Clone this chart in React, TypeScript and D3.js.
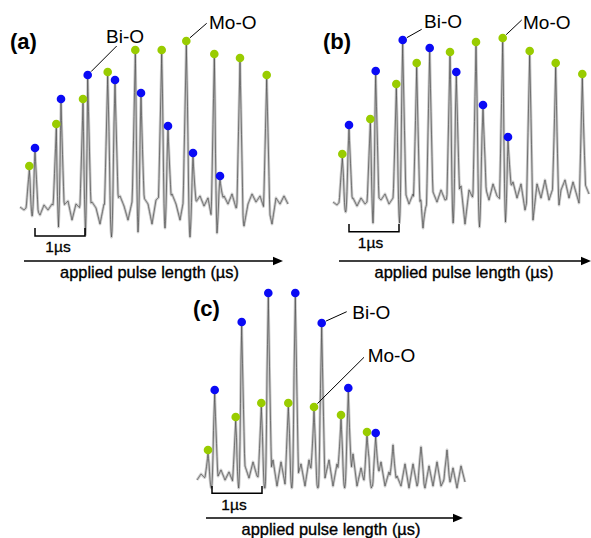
import React from "react";
import * as d3 from "d3";

const W = 591;
const H = 538;
const STEP_US = 0.08; // noise sample spacing (µs)
const PX_PER_US = 50;
const TIP_GAP = 4;
const SPIKE_W = 0.062;
const DIP_W = 0.044;
const FONT = "'Liberation Sans', Arial, Helvetica, sans-serif";
const GREEN = "#99cc00";
const BLUE = "#0a0af5";

// ---------- panel (a) ----------
const aGreenX = [0.186, 0.726, 1.26, 1.754, 2.306, 2.834, 3.326, 3.886, 4.4, 4.934];
const aGreenY = [44, 86, 111, 138, 160, 160, 169, 156, 152, 135];
const aBlueX = [0.3, 0.82, 1.354, 1.9, 2.42, 2.96, 3.46, 4.0];
const aBlueY = [62, 111, 135, 130, 117, 84, 57, 34];
const aDipX = [0.243, 0.77, 1.31, 1.83, 2.36, 2.9, 3.4, 3.94];
const aDipY = [-6, -17, -25, -27, -22, -18, -27, -23];
const aNoise = [3, 0, 4, -5, 2, -5, 5, 0, 6, 2, -6, 5, 9, -10, 6, 2, -5, 4, 8, 2, -14, 6, 4, -6, 10, 14, 4, -10, 8, 6, -8, 12, 6, -14, 10, 14, -6, 6, 16, 6, -10, 12, 6, -10, 8, 14, 4, 12, -10, 4, 6, 14, 6, 16, 2, 6, -16, 6, 16, 8, 14, 2, 4, -14, 12, 6, 14, 6];

// ---------- panel (b) ----------
const bGreenX = [0.186, 0.746, 1.266, 1.674, 2.34, 2.86, 3.394, 3.934, 4.454, 4.986];
const bGreenY = [50, 85, 120, 141, 152, 162, 166, 153, 141, 130];
const bBlueX = [0.32, 0.854, 1.394, 1.934, 2.466, 3.0, 3.5];
const bBlueY = [79, 133, 164, 156, 132, 99, 67];
const bDipX = [0.253, 0.8, 1.33, 1.8, 2.403, 2.93, 3.45];
const bDipY = [-8, -19, -19, -24, -19, -23, -18];
const bNoise = [2, -1, 4, -6, 3, 6, -2, 6, 0, 4, -6, 8, 4, 10, 0, 6, -4, 4, 12, 0, 10, -8, 6, -6, 8, 12, 2, 14, 4, 6, -6, 10, 18, -20, 14, 6, -4, 10, 18, 4, 20, 8, 4, -4, 14, 22, 6, 20, -6, 12, -16, 20, 6, 24, 4, 16, -16, 14, 24, 6, 22, 8, -6, 20, 10];

// ---------- panel (c) ----------
const cGreenX = [0.22, 0.774, 1.286, 1.826, 2.34, 2.88, 3.4];
const cGreenY = [34, 67, 81, 81, 77, 69, 52];
const cBlueX = [0.354, 0.894, 1.426, 1.966, 2.494, 3.026, 3.574];
const cBlueY = [94, 162, 191, 191, 161, 96, 51];
const cDipX = [0.287, 0.834, 1.356, 1.896, 2.417, 2.953, 3.487];
const cDipY = [-4, -4, -4, -4, -4, -4, -4];
const cExtraX = [3.92, 4.48, 5.0];
const cExtraY = [39, 37, 34];
const cNoise = [4, 10, 6, 0, -2, 6, 14, 4, 12, 2, -2, 8, 18, 6, 22, 8, 4, -4, 6, 24, -2, 22, 0, 10, -2, 6, 20, -2, 24, 4, 2, -2, 6, 24, -2, 20, 0, 6, -4, 30, -2, 16, -2, 14, -2, 4, 22, -2, 12, -4, 8, -2, 20, -4, 20, -2, 8, -4, 18, -2, 22, -2, 6, -4, 16, -4, 18, 2];

const tags = ["(a)", "(b)", "(c)"];
const bondLabels = ["Bi-O", "Mo-O"];
const scaleLabel = "1µs";
const axisTitle = "applied pulse length (µs)";
const bracketUs = [0.3, 0.32, 0.3];

type Panel = {
  tag: string;
  greenX: number[]; greenY: number[]; blueX: number[]; blueY: number[];
  dipX: number[]; dipY: number[]; noise: number[];
  extraX: number[]; extraY: number[];
  x0: number; base: number; bracketUs: number;
  bracketY: number; bracketTop: number; scaleLabelX: number; scaleLabelY: number;
  arrowY: number; arrowX1: number; arrowX2: number; axisLabelX: number; axisLabelY: number;
  tagX: number; tagY: number;
  biText: [number, number]; moText: [number, number];
  biFrom: [number, number]; moFrom: [number, number];
  biIdx: number; moIdx: number;
};

const panels: Panel[] = [
  {
    tag: tags[0], greenX: aGreenX, greenY: aGreenY, blueX: aBlueX, blueY: aBlueY,
    dipX: aDipX, dipY: aDipY, noise: aNoise, extraX: [], extraY: [],
    x0: 20, base: 210, bracketUs: bracketUs[0],
    bracketY: 236, bracketTop: 228, scaleLabelX: 58, scaleLabelY: 251.5,
    arrowY: 261, arrowX1: 24, arrowX2: 283, axisLabelX: 149.5, axisLabelY: 277.5,
    tagX: 10, tagY: 48.5,
    biText: [106, 42.5], moText: [209, 29.3],
    biFrom: [116.7, 46], moFrom: [206.7, 23.3], biIdx: 2, moIdx: 6,
  },
  {
    tag: tags[1], greenX: bGreenX, greenY: bGreenY, blueX: bBlueX, blueY: bBlueY,
    dipX: bDipX, dipY: bDipY, noise: bNoise, extraX: [], extraY: [],
    x0: 333, base: 204, bracketUs: bracketUs[1],
    bracketY: 231.7, bracketTop: 224, scaleLabelX: 370.5, scaleLabelY: 247.5,
    arrowY: 261, arrowX1: 339, arrowX2: 591, axisLabelX: 464, axisLabelY: 277.5,
    tagX: 323, tagY: 49,
    biText: [424, 28.3], moText: [523, 29.3],
    biFrom: [421.7, 29.3], moFrom: [521.7, 20], biIdx: 2, moIdx: 6,
  },
  {
    tag: tags[2], greenX: cGreenX, greenY: cGreenY, blueX: cBlueX, blueY: cBlueY,
    dipX: cDipX, dipY: cDipY, noise: cNoise, extraX: cExtraX, extraY: cExtraY,
    x0: 197, base: 484, bracketUs: bracketUs[2],
    bracketY: 493.3, bracketTop: 486, scaleLabelX: 234, scaleLabelY: 510,
    arrowY: 518, arrowX1: 206, arrowX2: 463, axisLabelX: 331, axisLabelY: 535,
    tagX: 193, tagY: 316,
    biText: [352.3, 318.5], moText: [367.7, 362],
    biFrom: [346.7, 311.7], moFrom: [364, 357.3], biIdx: 4, moIdx: 4,
  },
];

function buildTrace(p: Panel): [number, number][] {
  const len = (p.noise.length - 1) * STEP_US;
  const xs: number[] = d3.range(0, len + 1e-9, 0.01);
  const all = xs.concat(p.greenX, p.blueX, p.dipX, p.extraX).filter((v) => v >= 0 && v <= len);
  all.sort((a, b) => a - b);
  const nx = p.noise.map((_, i) => i * STEP_US);
  const interp = d3.scaleLinear().domain(nx).range(p.noise).clamp(true);
  const spikes: [number, number][] = [
    ...p.greenX.map((x, i) => [x, p.greenY[i] - TIP_GAP] as [number, number]),
    ...p.blueX.map((x, i) => [x, p.blueY[i] - TIP_GAP] as [number, number]),
    ...p.extraX.map((x, i) => [x, p.extraY[i]] as [number, number]),
  ];
  return all.map((x) => {
    let y = interp(x);
    for (const [sx, sh] of spikes) {
      const k = Math.max(0, 1 - Math.abs(x - sx) / SPIKE_W);
      if (k > 0) y = y * (1 - k) + sh * k;
    }
    p.dipX.forEach((dx, i) => {
      const k = Math.max(0, 1 - Math.abs(x - dx) / DIP_W);
      if (k > 0) y = y * (1 - k) + p.dipY[i] * k;
    });
    return [x, y];
  });
}

function PanelView({ p }: { p: Panel }) {
  const len = (p.noise.length - 1) * STEP_US;
  const xs = d3.scaleLinear().domain([0, len]).range([p.x0, p.x0 + len * PX_PER_US]);
  const ys = d3.scaleLinear().domain([0, 200]).range([p.base, p.base - 200]);
  const pts = buildTrace(p);
  const line = d3.line<[number, number]>().x((d) => xs(d[0])).y((d) => ys(d[1]));
  const dpath = line(pts) || "";
  const r = 4.3;

  const leader = (from: [number, number], cx: number, cy: number) => {
    const dx = from[0] - cx;
    const dy = from[1] - cy;
    const L = Math.hypot(dx, dy);
    return { x1: from[0], y1: from[1], x2: cx + (dx / L) * (r + 0.5), y2: cy + (dy / L) * (r + 0.5) };
  };
  const bi = leader(p.biFrom, xs(p.blueX[p.biIdx]), ys(p.blueY[p.biIdx]));
  const mo = leader(p.moFrom, xs(p.greenX[p.moIdx]), ys(p.greenY[p.moIdx]));

  const bx1 = xs(p.bracketUs);
  const bx2 = xs(p.bracketUs + 1);

  return (
    <g>
      <path d={dpath} fill="none" stroke="#cacaca" strokeWidth={2.8} strokeLinejoin="round" />
      <path d={dpath} fill="none" stroke="#4a4a4a" strokeWidth={0.7} strokeLinejoin="round" />
      {p.greenX.map((x, i) => (
        <circle key={"g" + i} cx={xs(x)} cy={ys(p.greenY[i])} r={r} fill={GREEN} />
      ))}
      {p.blueX.map((x, i) => (
        <circle key={"b" + i} cx={xs(x)} cy={ys(p.blueY[i])} r={r} fill={BLUE} />
      ))}
      <line {...bi} stroke="#000" strokeWidth={1} />
      <line {...mo} stroke="#000" strokeWidth={1} />
      <text x={p.biText[0]} y={p.biText[1]} fontFamily={FONT} fontSize={19}>{bondLabels[0]}</text>
      <text x={p.moText[0]} y={p.moText[1]} fontFamily={FONT} fontSize={19}>{bondLabels[1]}</text>
      <text x={p.tagX} y={p.tagY} fontFamily={FONT} fontSize={22} fontWeight="bold">{p.tag}</text>
      <path
        d={`M${bx1},${p.bracketTop}V${p.bracketY}H${bx2}V${p.bracketTop}`}
        fill="none" stroke="#000" strokeWidth={1.5}
      />
      <text x={p.scaleLabelX} y={p.scaleLabelY} textAnchor="middle" fontFamily={FONT} fontSize={15.5}
        stroke="#000" strokeWidth={0.3}>{scaleLabel}</text>
      <line x1={p.arrowX1} y1={p.arrowY} x2={p.arrowX2 - 6} y2={p.arrowY} stroke="#000" strokeWidth={1.5} />
      <path
        d={`M${p.arrowX2},${p.arrowY}L${p.arrowX2 - 10},${p.arrowY - 4.2}L${p.arrowX2 - 10},${p.arrowY + 4.2}Z`}
        fill="#000"
      />
      <text x={p.axisLabelX} y={p.axisLabelY} textAnchor="middle" fontFamily={FONT} fontSize={16.4}
        stroke="#000" strokeWidth={0.35}>{axisTitle}</text>
    </g>
  );
}

export default function App() {
  return (
    <svg width={W} height={H} viewBox={`0 0 ${W} ${H}`} style={{ position: "absolute", left: 0, top: 0, background: "#fff" }}>
      <rect x={0} y={0} width={W} height={H} fill="#fff" />
      {panels.map((p, i) => (
        <PanelView key={i} p={p} />
      ))}
    </svg>
  );
}
